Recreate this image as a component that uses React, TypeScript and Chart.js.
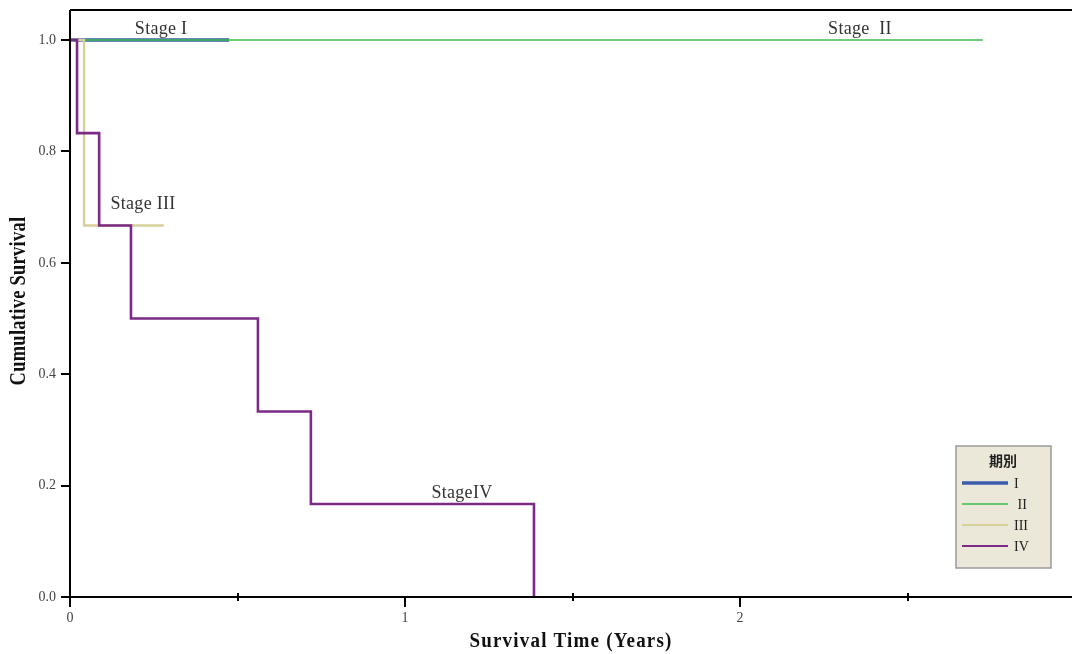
import React, { useEffect, useRef } from "react";
import { Chart, registerables } from "chart.js";

Chart.register(...registerables);

// ---- data ----
const stageIx = [0, 0.475];
const stageIy = [1, 1];
const stageIIx = [0, 2.725];
const stageIIy = [1, 1];
const stageIIIx = [0, 0.042, 0.28];
const stageIIIy = [1, 0.667, 0.667];
const stageIVx = [0, 0.021, 0.087, 0.182, 0.561, 0.719, 1.385];
const stageIVy = [1, 0.833, 0.667, 0.5, 0.333, 0.167, 0];

const yTicks = [0, 0.2, 0.4, 0.6, 0.8, 1.0];
const xMajorTicks = [0, 1, 2];
const xMinorTicks = [0.5, 1.5, 2.5];

const legendTitle = "期別";
const legendLabels = ["I", " II", "III", "IV"];
const stageNotes = [
  { text: "Stage I", x: 0.272, y: 1.02 },
  { text: "Stage  II", x: 2.358, y: 1.02 },
  { text: "Stage III", x: 0.218, y: 0.705 },
  { text: "StageIV", x: 1.17, y: 0.187 },
];

const colors = ["#3d5cab", "#3dbf4a", "#d6d09a", "#7b2a85"];
const widths = [3.5, 1.5, 2.4, 2.6];

const toPts = (xs: number[], ys: number[]) => xs.map((x, i) => ({ x, y: ys[i] }));

const SERIF = "'Liberation Serif', 'Times New Roman', serif";

export default function App() {
  const ref = useRef<HTMLCanvasElement | null>(null);

  useEffect(() => {
    if (!ref.current) return;
    const series = [
      toPts(stageIx, stageIy),
      toPts(stageIIx, stageIIy),
      toPts(stageIIIx, stageIIIy),
      toPts(stageIVx, stageIVy),
    ];

    const decor = {
      id: "decor",
      afterDatasetsDraw(chart: any) {
        const ctx = chart.ctx as CanvasRenderingContext2D;
        const xs = chart.scales.x;
        const ys = chart.scales.y;
        ctx.save();
        ctx.fillStyle = "#333";
        ctx.font = `18px ${SERIF}`;
        (ctx as any).letterSpacing = "0.3px";
        ctx.textAlign = "center";
        ctx.textBaseline = "middle";
        for (const n of stageNotes) {
          ctx.fillText(n.text, xs.getPixelForValue(n.x), ys.getPixelForValue(n.y));
        }
        (ctx as any).letterSpacing = "0px";
        ctx.restore();
      },
      afterDraw(chart: any) {
        const ctx = chart.ctx as CanvasRenderingContext2D;
        const xs = chart.scales.x;
        const ys = chart.scales.y;
        const a = chart.chartArea;
        ctx.save();
        ctx.strokeStyle = "#000";
        ctx.lineWidth = 2;
        ctx.beginPath();
        ctx.moveTo(a.left, a.top);
        ctx.lineTo(a.right, a.top);
        ctx.moveTo(a.left, a.top);
        ctx.lineTo(a.left, a.bottom);
        ctx.moveTo(a.left, a.bottom);
        ctx.lineTo(a.right, a.bottom);
        ctx.stroke();
        // y ticks
        ctx.lineWidth = 2;
        ctx.beginPath();
        for (const v of yTicks) {
          const p = Math.round(ys.getPixelForValue(v));
          ctx.moveTo(a.left - 9, p);
          ctx.lineTo(a.left, p);
        }
        ctx.stroke();
        // x ticks
        ctx.beginPath();
        for (const v of xMajorTicks) {
          const p = Math.round(xs.getPixelForValue(v));
          ctx.moveTo(p, a.bottom);
          ctx.lineTo(p, a.bottom + 10);
        }
        for (const v of xMinorTicks) {
          const p = Math.round(xs.getPixelForValue(v));
          ctx.moveTo(p, a.bottom - 4);
          ctx.lineTo(p, a.bottom + 4);
        }
        ctx.stroke();

        // axis titles
        ctx.fillStyle = "#111";
        ctx.textAlign = "center";
        ctx.textBaseline = "middle";
        ctx.font = `bold 19px ${SERIF}`;
        (ctx as any).letterSpacing = "1.2px";
        ctx.save();
        ctx.translate(571, 642);
        ctx.scale(1, 1.12);
        ctx.fillText("Survival Time (Years)", 0, 0);
        ctx.restore();
        (ctx as any).letterSpacing = "0.3px";
        ctx.save();
        ctx.translate(19, 301);
        ctx.rotate(-Math.PI / 2);
        ctx.scale(0.97, 1.2);
        ctx.fillText("Cumulative Survival", 0, 0);
        ctx.restore();
        (ctx as any).letterSpacing = "0px";

        // legend
        const lx = 956, ly = 446, lw = 95, lh = 122;
        ctx.fillStyle = "#ece8d9";
        ctx.fillRect(lx, ly, lw, lh);
        ctx.strokeStyle = "#9a9a9a";
        ctx.lineWidth = 1.5;
        ctx.strokeRect(lx, ly, lw, lh);
        ctx.fillStyle = "#222";
        ctx.font = "bold 14px 'Noto Sans CJK TC', sans-serif";
        ctx.fillText(legendTitle, 1003, 461);
        ctx.textAlign = "left";
        ctx.font = `14px ${SERIF}`;
        legendLabels.forEach((lab, i) => {
          const yy = 483 + i * 21;
          ctx.strokeStyle = colors[i];
          ctx.lineWidth = i === 0 ? 3.5 : i === 1 ? 1.5 : 2.2;
          ctx.beginPath();
          ctx.moveTo(962, yy);
          ctx.lineTo(1008, yy);
          ctx.stroke();
          ctx.fillStyle = "#222";
          ctx.fillText(lab, 1014, yy + 1);
        });
        ctx.restore();
      },
    };

    const chart = new Chart(ref.current, {
      type: "line",
      data: {
        datasets: series.map((d, i) => ({
          label: ["I", "II", "III", "IV"][i],
          data: d,
          borderColor: colors[i],
          borderWidth: widths[i],
          backgroundColor: colors[i],
          stepped: "before" as const,
          pointRadius: 0,
          fill: false,
          order: 4 - i,
        })),
      },
      options: {
        animation: false,
        responsive: false,
        devicePixelRatio: 1,
        layout: { padding: { top: 10, right: 0, left: 0, bottom: 0 } },
        plugins: { legend: { display: false }, tooltip: { enabled: false } },
        scales: {
          x: {
            type: "linear",
            min: 0,
            max: 2.991,
            afterBuildTicks: (s: any) => {
              s.ticks = xMajorTicks.map((v) => ({ value: v }));
            },
            afterFit: (s: any) => {
              s.height = 57;
              s.paddingLeft = 0;
              s.paddingRight = 0;
            },
            grid: { display: true, drawOnChartArea: false, drawTicks: true, tickLength: 8, color: "transparent" },
            border: { display: false },
            ticks: {
              color: "#444",
              font: { family: SERIF, size: 14 },
              padding: 5,
              maxRotation: 0,
              callback: (v: any) => String(v),
            },
          },
          y: {
            type: "linear",
            min: 0,
            max: 1.054,
            afterBuildTicks: (s: any) => {
              s.ticks = yTicks.map((v) => ({ value: v }));
            },
            afterFit: (s: any) => {
              s.width = 70;
              s.paddingTop = 0;
              s.paddingBottom = 0;
            },
            grid: { display: true, drawOnChartArea: false, drawTicks: true, tickLength: 8, color: "transparent" },
            border: { display: false },
            ticks: {
              color: "#444",
              font: { family: SERIF, size: 14 },
              padding: 6,
              callback: (v: any) => Number(v).toFixed(1),
            },
          },
        },
      },
      plugins: [decor],
    });
    return () => chart.destroy();
  }, []);

  return (
    <div style={{ position: "absolute", left: 0, top: 0, width: 1072, height: 654, background: "#fff" }}>
      <canvas ref={ref} width={1072} height={654} style={{ width: 1072, height: 654, display: "block" }} />
    </div>
  );
}
